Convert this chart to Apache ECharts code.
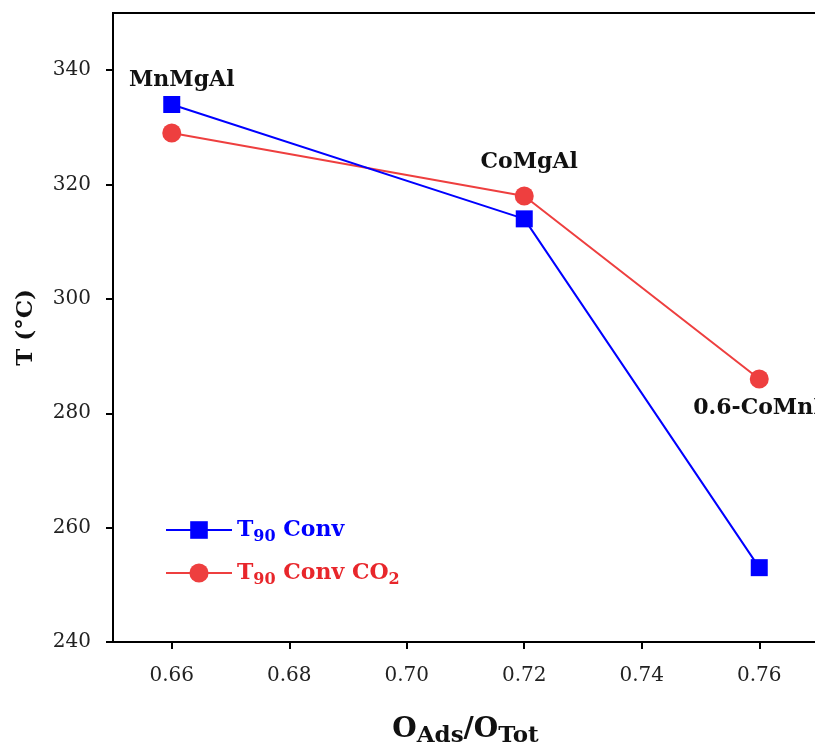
<!DOCTYPE html>
<html>
<head>
<meta charset="utf-8">
<script src="https://cdn.jsdelivr.net/npm/echarts@6/dist/echarts.min.js"></script>
<style>
html,body{margin:0;padding:0;background:#fff;}
#chart{width:815px;height:747px;}
</style>
</head>
<body>
<div id="chart"></div>
<script>
const xValues = [0.66, 0.72, 0.76];
const t90Conv = [334, 314, 253];
const t90ConvCO2 = [329, 318, 286];
const sampleNames = ['MnMgAl', 'CoMgAl', '0.6-CoMnMgAl'];
const xTicks = [0.66, 0.68, 0.70, 0.72, 0.74, 0.76];
const yTicks = [240, 260, 280, 300, 320, 340];

const FONT = 'DejaVu Serif';
const BLUE = '#0000FF';
const RED = '#EE3F3F';
const RED_TEXT = '#E8262B';

const labelStyle = {
  show: true, fontFamily: FONT, fontWeight: 'bold', fontSize: 22, color: '#111'
};

const blueData = xValues.map((x, i) => {
  const d = { value: [x, t90Conv[i]] };
  if (i === 0) d.label = Object.assign({}, labelStyle, { position: 'top', offset: [10, 0], formatter: sampleNames[0] });
  return d;
});
const redData = xValues.map((x, i) => {
  const d = { value: [x, t90ConvCO2[i]] };
  if (i === 1) d.label = Object.assign({}, labelStyle, { position: 'top', offset: [5, -8], formatter: sampleNames[1] });
  if (i === 2) d.label = Object.assign({}, labelStyle, { position: 'bottom', align: 'left', offset: [-66, 4], formatter: sampleNames[2] });
  return d;
});

function legendRich(color) {
  return {
    a: { fontFamily: FONT, fontWeight: 'bold', fontSize: 22, color: color },
    s: { fontFamily: FONT, fontWeight: 'bold', fontSize: 16, color: color, padding: [14, 0, 0, 0] }
  };
}

const chart = echarts.init(document.getElementById('chart'));
chart.setOption({
  animation: false,
  backgroundColor: '#fff',
  grid: {
    left: 113, top: 13, right: -3, bottom: 105,
    show: true, borderColor: '#000', borderWidth: 2, outerBoundsMode: 'none'
  },
  legend: [
    {
      data: ['T90 Conv'], left: 160, top: 514, orient: 'vertical',
      itemWidth: 66, itemHeight: 22, itemGap: 10,
      formatter: () => '{a|T}{s|90}{a| Conv}',
      textStyle: { rich: legendRich(BLUE) }
    },
    {
      data: ['T90 Conv CO2'], left: 160, top: 557, orient: 'vertical',
      itemWidth: 66, itemHeight: 24, itemGap: 10,
      formatter: () => '{a|T}{s|90}{a| Conv CO}{s|2}',
      textStyle: { rich: legendRich(RED_TEXT) }
    }
  ],
  xAxis: {
    type: 'value', min: 0.65, max: 0.77,
    splitLine: { show: false },
    axisLine: { show: true, lineStyle: { color: '#000', width: 2 } },
    axisTick: { show: true, length: 7, lineStyle: { color: '#000', width: 2 }, customValues: xTicks },
    axisLabel: {
      customValues: xTicks, margin: 24, fontFamily: FONT, fontSize: 20, color: '#222',
      formatter: v => v.toFixed(2)
    },
    name: '{o|O}{sub|Ads}{o|/O}{sub|Tot}',
    nameLocation: 'middle', nameGap: 70,
    nameTextStyle: {
      rich: {
        o: { fontFamily: FONT, fontWeight: 'bold', fontSize: 28, color: '#111' },
        sub: { fontFamily: FONT, fontWeight: 'bold', fontSize: 23, color: '#111', padding: [13, 0, 0, 0] }
      }
    }
  },
  yAxis: {
    type: 'value', min: 240, max: 350,
    splitLine: { show: false },
    axisLine: { show: true, lineStyle: { color: '#000', width: 2 } },
    axisTick: { show: true, length: 7, lineStyle: { color: '#000', width: 2 }, customValues: yTicks },
    axisLabel: { customValues: yTicks, margin: 22, fontFamily: FONT, fontSize: 20, color: '#222' },
    name: 'T (°C)', nameLocation: 'middle', nameGap: 75, nameRotate: 90,
    nameTextStyle: { fontFamily: FONT, fontWeight: 'bold', fontSize: 23, color: '#111' }
  },
  series: [
    {
      name: 'T90 Conv', type: 'line', data: blueData,
      symbol: 'rect', symbolSize: 17,
      itemStyle: { color: BLUE },
      lineStyle: { color: BLUE, width: 2 },
      z: 3
    },
    {
      name: 'T90 Conv CO2', type: 'line', data: redData,
      symbol: 'circle', symbolSize: 19,
      itemStyle: { color: RED },
      lineStyle: { color: RED, width: 2 },
      z: 2
    }
  ]
});
</script>
</body>
</html>
